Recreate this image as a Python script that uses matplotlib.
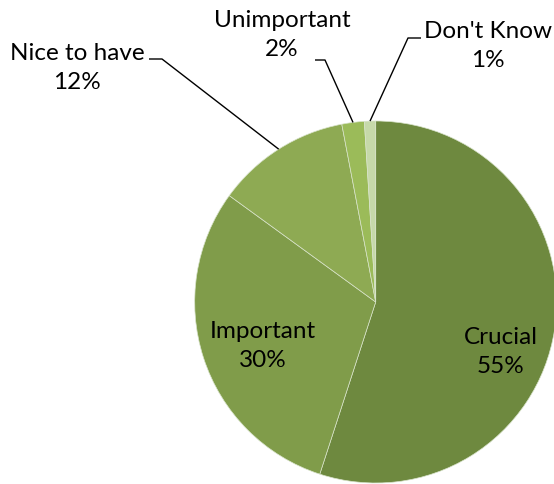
import numpy as np
import matplotlib
matplotlib.use("Agg")
import matplotlib.pyplot as plt

categories = ["Crucial", "Important", "Nice to have", "Unimportant", "Don't Know"]
shares = [55, 30, 12, 2, 1]
colors = ["#6e893f", "#809c4a", "#8eaa53", "#9bbb59", "#c6d9a9"]

W, H = 554, 484
cx, cy, r = 375.7, H - 302, 181

plt.rcParams["font.family"] = ["Lato", "DejaVu Sans"]

fig = plt.figure(figsize=(W / 100, H / 100), dpi=100)
ax = fig.add_axes([0, 0, 1, 1])

wedges, _ = ax.pie(shares, colors=colors, startangle=90, counterclock=False,
                   center=(cx, cy), radius=r, frame=True,
                   wedgeprops=dict(edgecolor="#d8e3ca", linewidth=0.5))
ax.set_xlim(0, W)
ax.set_ylim(0, H)
ax.set_aspect("equal")
ax.axis("off")


def edge_point(i):
    # middle of wedge i on the rim
    cum = np.cumsum([0] + shares) / sum(shares)
    mid = (cum[i] + cum[i + 1]) / 2 * 2 * np.pi
    return cx + r * np.sin(mid), cy + r * np.cos(mid)


fs = 17.5
ls = 1.5
# labels inside the big slices
inside = {0: (501, 352), 1: (263, 346)}
for i, (x, y) in inside.items():
    ax.text(x, H - y, f"{categories[i]}\n{shares[i]}%", ha="center", va="center",
            fontsize=fs, linespacing=ls)

# outside labels with leader lines: text centre, elbow points
outside = {
    2: ((77, 68), [(149, 59), (162, 59)]),
    3: ((282, 35), [(315, 60), (325, 60)]),
    4: ((488, 46), [(421, 38), (408, 38)]),
}
for i, ((x, y), elbow) in outside.items():
    ax.text(x, H - y, f"{categories[i]}\n{shares[i]}%", ha="center", va="center",
            fontsize=fs, linespacing=ls)
    ex, ey = edge_point(i)
    xs = [p[0] for p in elbow] + [ex]
    ys = [H - p[1] for p in elbow] + [ey]
    ax.plot(xs, ys, color="black", lw=1.0, solid_capstyle="butt")

fig.savefig("out.png", dpi=100)
